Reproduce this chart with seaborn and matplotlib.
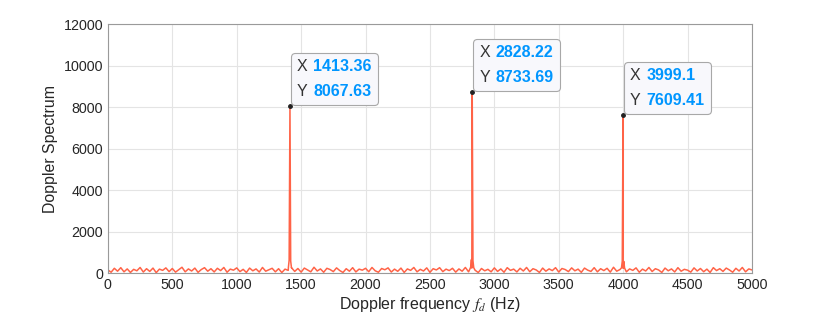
import numpy as np
import pandas as pd
import matplotlib
matplotlib.use("Agg")
import matplotlib.pyplot as plt
import seaborn as sns
from matplotlib.offsetbox import AnnotationBbox, TextArea, HPacker, VPacker

# noise floor, one value every 25 Hz from 0 to 5000 Hz
noise_step = 25
noise_vals = [
    150, 40, 230, 90, 260, 60, 200, 30, 180, 110, 270, 50, 210, 80, 240, 20, 190, 130, 250, 70,
    220, 45, 160, 280, 60, 200, 100, 240, 35, 170, 260, 90, 210, 55, 230, 120, 270, 40, 190, 140,
    250, 70, 180, 30, 240, 110, 200, 50, 270, 90, 160, 230, 60, 210, 25, 190, 130, 260, 80, 220,
    45, 240, 150, 60, 280, 100, 200, 40, 230, 170, 70, 250, 120, 30, 210, 90, 260, 55, 190, 140,
    230, 65, 270, 110, 40, 220, 160, 250, 50, 190, 85, 240, 30, 200, 130, 270, 60, 180, 100, 250,
    35, 210, 150, 260, 70, 190, 120, 230, 45, 200, 90, 270, 60, 240, 140, 25, 220, 110, 180, 60,
    250, 80, 200, 40, 260, 130, 190, 55, 230, 100, 270, 65, 210, 150, 30, 240, 90, 200, 120, 260,
    50, 220, 170, 70, 250, 110, 190, 35, 240, 140, 80, 260, 60, 210, 120, 230, 45, 280, 90, 170,
    230, 60, 200, 130, 250, 40, 190, 100, 270, 75, 210, 150, 30, 240, 110, 200, 55, 260, 90, 180,
    140, 45, 250, 100, 220, 65, 190, 30, 260, 120, 210, 80, 240, 150, 40, 230, 100, 270, 60, 200,
    150,
]

# spectral peaks (datatip values) and the points around them
peak_freq = [1413.36, 2828.22, 3999.1]
peak_amp = [8067.63, 8733.69, 7609.41]
shoulder_freq = [1401, 1407, 1419, 1425,
                 2816, 2822, 2834, 2840,
                 3987, 3993, 4005, 4011]
shoulder_amp = [260, 620, 580, 250,
                280, 650, 600, 260,
                250, 580, 560, 240]

xticks = [0, 500, 1000, 1500, 2000, 2500, 3000, 3500, 4000, 4500, 5000]
yticks = [0, 2000, 4000, 6000, 8000, 10000, 12000]

noise_freq = [i * noise_step for i in range(len(noise_vals))]
df = pd.DataFrame({
    "f": noise_freq + peak_freq + shoulder_freq,
    "S": noise_vals + peak_amp + shoulder_amp,
})
df = df.sort_values("f").reset_index(drop=True)

sns.set_style("white")
plt.rcParams["font.family"] = ["Liberation Sans", "DejaVu Sans"]
plt.rcParams["mathtext.fontset"] = "stix"

fig = plt.figure(figsize=(8.3, 3.29), dpi=100)
ax = fig.add_axes([0.130, 0.170, 0.776, 0.757])

sns.lineplot(data=df, x="f", y="S", ax=ax, color="#ff6347", lw=1.1,
             estimator=None, sort=True)
ax.plot(peak_freq, peak_amp, "o", color="#222222", ms=2.5, zorder=5)

ax.set_xlim(0, 5000)
ax.set_ylim(0, 12000)
ax.set_xticks(xticks)
ax.set_yticks(yticks)
ax.grid(True, color="#e4e4e4", lw=0.8)
ax.set_axisbelow(True)
for s in ax.spines.values():
    s.set_color("#9a9a9a")
    s.set_linewidth(0.8)
ax.tick_params(direction="in", length=3, color="#9a9a9a",
               labelsize=10.3, labelcolor="#262626")
ax.set_xlabel("Doppler frequency $f_d$ (Hz)", fontsize=11.5, color="#262626", labelpad=2)
ax.set_ylabel("Doppler Spectrum", fontsize=11.4, color="#262626", labelpad=4)

# datatips
for fx, fy in zip(peak_freq, peak_amp):
    xs = f"{fx:g}"
    ys = f"{fy:g}"
    row_x = HPacker(children=[
        TextArea("X", textprops=dict(color="#333333", fontsize=11.5)),
        TextArea(xs, textprops=dict(color="#0096ff", fontsize=11.5, fontweight="bold")),
    ], align="baseline", pad=0, sep=4)
    row_y = HPacker(children=[
        TextArea("Y", textprops=dict(color="#333333", fontsize=11.5)),
        TextArea(ys, textprops=dict(color="#0096ff", fontsize=11.5, fontweight="bold")),
    ], align="baseline", pad=0, sep=4)
    box = VPacker(children=[row_x, row_y], align="left", pad=0, sep=7)
    ab = AnnotationBbox(box, (fx, fy), xybox=(5, 5), xycoords="data",
                        boxcoords="offset points", box_alignment=(0, 0),
                        frameon=True, pad=0.45,
                        bboxprops=dict(boxstyle="round,pad=0.45,rounding_size=0.3",
                                       fc="#f8f8fc", ec="#a8a8a8", lw=0.8))
    ab.set_zorder(6)
    ax.add_artist(ab)

fig.savefig("out.png", dpi=100)
